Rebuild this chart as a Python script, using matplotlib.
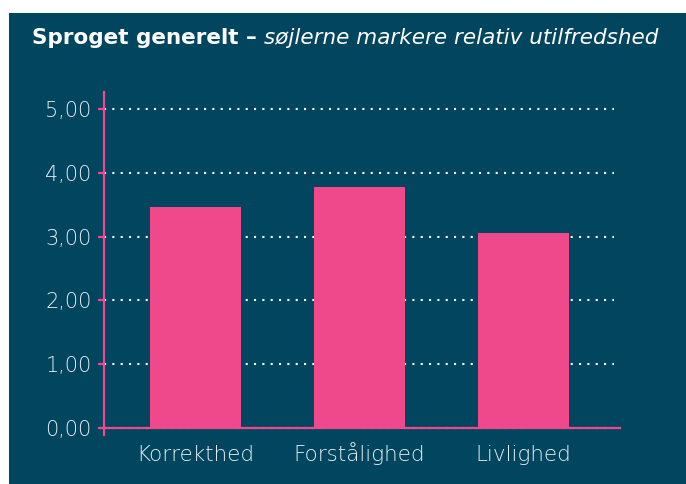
import matplotlib.pyplot as plt
from matplotlib.patches import Rectangle

categories = ["Korrekthed", "Forstålighed", "Livlighed"]
values = [3.46, 3.78, 3.06]
yticks = [0, 1, 2, 3, 4, 5]

bg = "#02455f"
pink = "#ef488b"
label_col = "#e6f1f5"

plt.rcParams['font.family'] = ['DejaVu Sans']

fig = plt.figure(figsize=(6.86, 4.84), dpi=100)
fig.patch.set_facecolor("white")
fig.patches.append(Rectangle((9 / 686, 0), 1 - 9 / 686, 1 - 13 / 484,
                             transform=fig.transFigure, facecolor=bg,
                             edgecolor="none", zorder=-5))

ax = fig.add_axes([104 / 686, 49 / 484, 516 / 686, 343 / 484])
ax.set_facecolor("none")

x = range(len(categories))
ax.bar(x, values, width=0.555, color=pink, zorder=3)

for t in yticks:
    ax.axhline(t, xmin=0, xmax=0.988, color="white", lw=1.5,
               ls=(0, (1, 3)), dash_capstyle="butt", zorder=1)

ax.set_xlim(-0.558, 2.588)
ax.set_ylim(-0.11, 5.27)

for s in ["top", "right"]:
    ax.spines[s].set_visible(False)
ax.spines["bottom"].set_position(("data", 0))
for s in ["left", "bottom"]:
    ax.spines[s].set_color(pink)
    ax.spines[s].set_linewidth(1.6)
    ax.spines[s].set_zorder(4)

ax.set_yticks(yticks)
ax.set_yticklabels([f"{t:.2f}".replace(".", ",") for t in yticks])
ax.tick_params(axis="y", colors=pink, length=4, width=1.6, pad=5,
               labelcolor=label_col, labelsize=15)
ax.set_xticks(list(x))
ax.set_xticklabels(categories)
ax.tick_params(axis="x", length=0, pad=24, labelcolor=label_col, labelsize=15.5)
for lab in ax.get_xticklabels():
    lab.set_va("baseline")
for lab in ax.get_xticklabels() + ax.get_yticklabels():
    lab.set_fontweight("light")

t1 = fig.text(32 / 686, 1 - 38 / 484, "Sproget generelt – ", color="white",
              fontsize=15.5, fontweight="bold", va="center")
fig.canvas.draw()
bb = t1.get_window_extent()
fig.text(bb.x1 / fig.bbox.width, 1 - 38 / 484, "søjlerne markere relativ utilfredshed",
         color="white", fontsize=15.5, fontstyle="italic", va="center")

fig.savefig("out.png", dpi=100)
